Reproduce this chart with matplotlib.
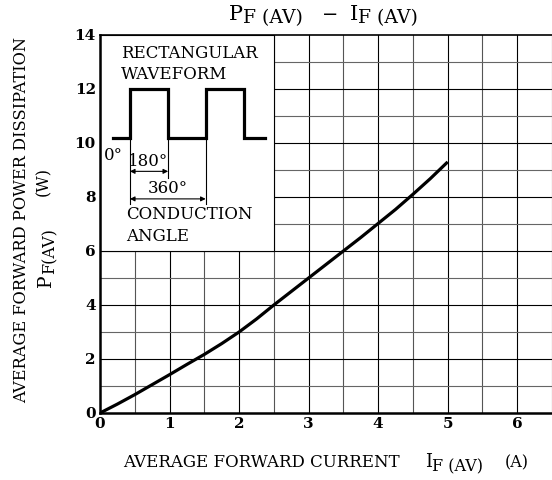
import numpy as np
import matplotlib
matplotlib.use('Agg')
import matplotlib.pyplot as plt
from matplotlib.patches import Rectangle

plt.rcParams['font.family'] = 'DejaVu Serif'

# curve
i_f = [0, 0.25, 0.5, 0.75, 1.0, 1.25, 1.5, 1.75, 2.0, 2.25, 2.5,
       2.75, 3.0, 3.25, 3.5, 3.75, 4.0, 4.25, 4.5, 4.75, 5.0]
p_f = [0, 0.33, 0.68, 1.05, 1.42, 1.8, 2.17, 2.57, 3.0, 3.48, 4.0,
       4.5, 5.0, 5.5, 6.0, 6.5, 7.02, 7.54, 8.1, 8.68, 9.3]
x_ticks = [0, 1, 2, 3, 4, 5, 6]
y_ticks = [0, 2, 4, 6, 8, 10, 12, 14]

W, H = 552, 480
fig = plt.figure(figsize=(5.52, 4.8), dpi=100)
ax = fig.add_axes([100/W, 1 - 413/H, 1 - 100/W, (413 - 35)/H])
ax.set_xlim(0, 6.5)
ax.set_ylim(0, 14)
rend = fig.canvas.get_renderer()


def ftext(px, py, s, **kw):
    # place text by pixel position (from top-left) on the figure
    return fig.text(px / W, 1 - py / H, s, **kw)


def run_text(px, py, parts, vertical=False):
    # lay out (text, size, shift) pieces one after another, shift = subscript drop
    pos = px if not vertical else py
    for s, size, dy in parts:
        if vertical:
            t = ftext(px + dy, pos, s, fontsize=size, rotation=90,
                      rotation_mode='anchor', ha='left', va='baseline')
            pos -= t.get_window_extent(rend).height
        else:
            t = ftext(pos, py + dy, s, fontsize=size, ha='left', va='baseline')
            pos += t.get_window_extent(rend).width


# grid
for xv in np.arange(0.5, 6.6, 0.5):
    c = 'black' if xv == int(xv) else '#555555'
    ax.axvline(xv, color=c, lw=0.8, zorder=1)
for yv in range(1, 14):
    c = 'black' if yv % 2 == 0 else '#666666'
    ax.axhline(yv, color=c, lw=0.8, zorder=1)

# white box for the waveform sketch
ax.add_patch(Rectangle((0, 6), 2.5, 8, facecolor='white', edgecolor='black',
                       lw=0.8, zorder=2))

ax.plot(i_f, p_f, color='black', lw=2.3, zorder=5, solid_capstyle='butt')

# waveform sketch
wx = [0.19, 0.43, 0.43, 0.98, 0.98, 1.52, 1.52, 2.07, 2.07, 2.37]
wy = [10.2, 10.2, 12.0, 12.0, 10.2, 10.2, 12.0, 12.0, 10.2, 10.2]
ax.plot(wx, wy, color='black', lw=2.3, zorder=4, solid_joinstyle='miter')
ax.plot([0.43, 0.43], [10.2, 7.75], color='black', lw=0.8, zorder=4)
ax.plot([0.98, 0.98], [10.2, 8.7], color='black', lw=0.8, zorder=4)
ax.plot([1.52, 1.52], [10.2, 7.75], color='black', lw=0.8, zorder=4)
ax.annotate('', xy=(0.43, 8.95), xytext=(0.98, 8.95),
            arrowprops=dict(arrowstyle='<|-|>', color='black', lw=0.8,
                            mutation_scale=7, shrinkA=0, shrinkB=0), zorder=4)
ax.annotate('', xy=(0.43, 7.93), xytext=(1.52, 7.93),
            arrowprops=dict(arrowstyle='<|-|>', color='black', lw=0.8,
                            mutation_scale=7, shrinkA=0, shrinkB=0), zorder=4)
fs_in = 12
ax.text(0.3, 13.3, 'RECTANGULAR', fontsize=fs_in, va='center', zorder=4)
ax.text(0.3, 12.55, 'WAVEFORM', fontsize=fs_in, va='center', zorder=4)
ax.text(0.06, 9.55, '0°', fontsize=fs_in, va='center', zorder=4)
ax.text(0.69, 9.3, '180°', fontsize=fs_in, va='center', ha='center', zorder=4)
ax.text(0.97, 8.33, '360°', fontsize=fs_in, va='center', ha='center', zorder=4)
ax.text(0.37, 7.35, 'CONDUCTION', fontsize=fs_in, va='center', zorder=4)
ax.text(0.37, 6.55, 'ANGLE', fontsize=fs_in, va='center', zorder=4)

# axes styling
ax.set_xticks(x_ticks)
ax.set_yticks(y_ticks)
ax.tick_params(length=0, labelsize=11, pad=3)
for lab in ax.get_xticklabels() + ax.get_yticklabels():
    lab.set_fontweight('bold')
ax.spines['right'].set_visible(False)
ax.spines['left'].set_linewidth(1.8)
ax.spines['bottom'].set_linewidth(1.8)
ax.spines['top'].set_linewidth(1.2)
for s in ax.spines.values():
    s.set_zorder(6)

# title  P F(AV) - I F(AV)
run_text(229, 20, [('P', 15, 0), ('F (AV)', 13.5, 3)])
ftext(330, 20, '−', fontsize=14, va='baseline', ha='center')
run_text(350, 20, [('I', 15, 0), ('F (AV)', 13.5, 3)])

# x label
ftext(123, 467, 'AVERAGE FORWARD CURRENT', fontsize=12, va='baseline')
run_text(425, 467, [('I', 13, 0), ('F (AV)', 11.5, 4)])
ftext(505, 467, '(A)', fontsize=11.5, va='baseline')

# y label
ftext(22, 220, 'AVERAGE FORWARD POWER DISSIPATION', fontsize=11.7,
      rotation=90, ha='center', va='center')
run_text(51, 287, [('P', 13.5, 0), ('F(AV)', 11.5, 3)], vertical=True)
ftext(44, 182, '(W)', fontsize=11.5, rotation=90, ha='center', va='center')

fig.savefig('out.png', dpi=100)
